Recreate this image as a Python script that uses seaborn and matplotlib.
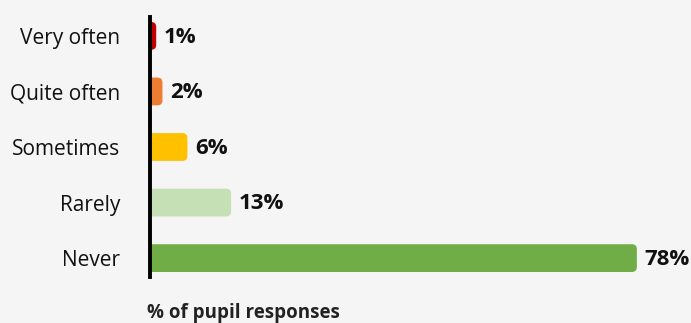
import matplotlib
matplotlib.use("Agg")
import matplotlib.pyplot as plt
from matplotlib.patches import FancyBboxPatch
import seaborn as sns
import pandas as pd

categories = ["Very often", "Quite often", "Sometimes", "Rarely", "Never"]
values = [1, 2, 6, 13, 78]
colors = ["#c00000", "#ed7d31", "#ffc000", "#c5e0b4", "#70ad47"]
xlabel = "% of pupil responses"

sns.set_theme(style="white")
plt.rcParams["font.family"] = ["Open Sans", "DejaVu Sans"]

bg = "#f5f5f5"
fig = plt.figure(figsize=(6.91, 3.23), dpi=100, facecolor=bg)
ax = fig.add_axes([0.217, 0.1424, 0.767, 0.805], facecolor=bg)

df = pd.DataFrame({"category": categories, "value": values})
sns.barplot(data=df, x="value", y="category", hue="category",
            palette=colors, saturation=1, orient="h", width=0.5,
            legend=False, ax=ax)

xmax = 84.9
ax.set_xlim(0, xmax)
ax.set_ylim(4.34, -0.34)

# swap the plain bars for bars with rounded ends
fig.canvas.draw()
bbox = ax.get_window_extent()
px_x = bbox.width / xmax
px_y = bbox.height / 4.68
r_px = 5.0
r_x = r_px / px_x
aspect = (r_px / px_y) / r_x
for patch in list(ax.patches):
    x0, y0 = patch.get_x(), patch.get_y()
    w, h = patch.get_width(), patch.get_height()
    fc = patch.get_facecolor()
    patch.remove()
    rr = min(r_x, w)
    box = FancyBboxPatch((x0 - rr, y0), w + rr, h,
                         boxstyle=f"round,pad=0,rounding_size={rr}",
                         mutation_aspect=aspect, facecolor=fc,
                         edgecolor="none", zorder=2)
    ax.add_patch(box)

for i, v in enumerate(values):
    ax.annotate(f"{v}%", xy=(v, i), xytext=(5.5, -1), textcoords="offset points",
                va="center", ha="left", fontsize=16, fontweight="bold",
                color="#111111")

for s in ["top", "right", "bottom"]:
    ax.spines[s].set_visible(False)
ax.spines["left"].set_linewidth(2.8)
ax.spines["left"].set_color("black")
ax.spines["left"].set_zorder(5)

ax.set_xticks([])
ax.set_ylabel("")
ax.set_xlabel("")
ax.tick_params(axis="y", length=0, pad=21.5, labelsize=15, labelcolor="#111111")

fig.text(147 / 691, 1 - 313 / 323, xlabel, ha="left", va="center",
         fontsize=13.5, fontweight="bold", color="#222222")

fig.savefig("out.png", dpi=100, facecolor=bg)
